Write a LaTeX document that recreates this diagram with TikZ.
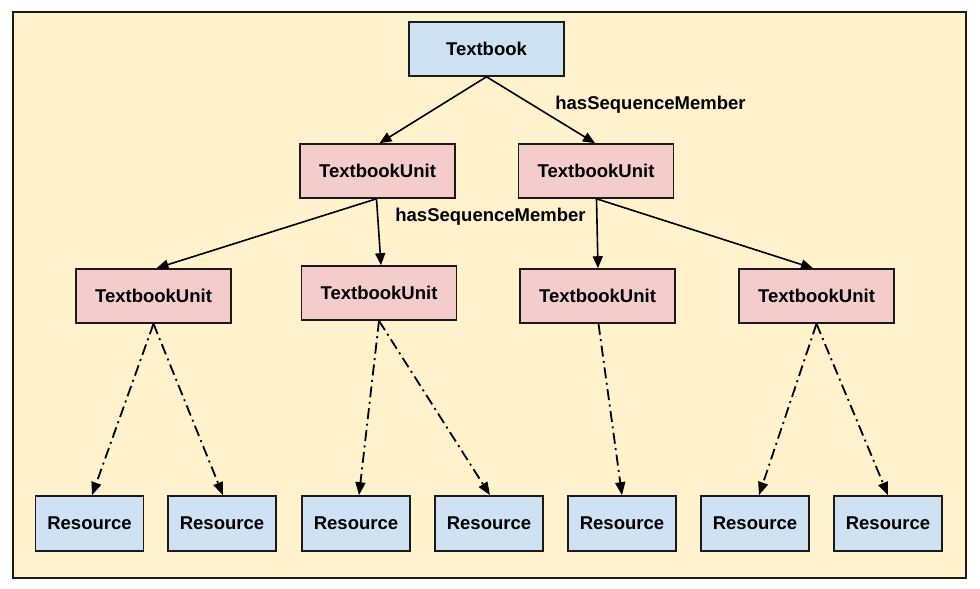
\documentclass[tikz,border=0pt]{standalone}
\usepackage{fontspec}
\setmainfont{Liberation Sans}
\usetikzlibrary{arrows.meta}
\definecolor{bgc}{HTML}{FFF2CC}
\definecolor{bluec}{HTML}{CFE2F3}
\definecolor{pinkc}{HTML}{F4CCCC}
\definecolor{edgec}{HTML}{1A1A1A}
\tikzset{
  box/.style={draw=edgec, line width=1.6pt, rectangle, inner sep=0pt,
    font=\fontsize{18.5}{21}\selectfont\bfseries},
  bluebox/.style={box, fill=bluec},
  pinkbox/.style={box, fill=pinkc, minimum width=155pt, minimum height=54pt},
  resbox/.style={box, fill=bluec, minimum width=108pt, minimum height=55pt},
  solidarrow/.style={draw=black, line width=1.6pt, -{Triangle[length=12pt,width=10pt]}},
  dotarrow/.style={draw=black, line width=1.8pt, dash pattern=on 11pt off 4.5pt on 2pt off 4.5pt,
    -{Triangle[length=13pt,width=10pt]}},
  lbl/.style={font=\fontsize{18.5}{21}\selectfont\bfseries, inner sep=0pt}
}
\begin{document}
\begin{tikzpicture}[x=1pt,y=-1pt]
\useasboundingbox (0,0) rectangle (980,589);
\fill[white] (0,0) rectangle (980,589);
\draw[fill=bgc, draw=edgec, line width=2pt] (13,12) rectangle (966,578);

\node[bluebox, minimum width=155pt, minimum height=54pt] (tb) at (486.5,49) {\raisebox{-1pt}{Textbook}};
\node[pinkbox] (u1) at (377.5,171) {\raisebox{-1pt}{TextbookUnit}};
\node[pinkbox] (u2) at (596,171) {\raisebox{-1pt}{TextbookUnit}};
\node[pinkbox] (ua) at (153.5,296) {\raisebox{-1pt}{TextbookUnit}};
\node[pinkbox] (ub) at (379,293) {\raisebox{-1pt}{TextbookUnit}};
\node[pinkbox] (uc) at (597.5,296) {\raisebox{-1pt}{TextbookUnit}};
\node[pinkbox] (ud) at (816.5,296) {\raisebox{-1pt}{TextbookUnit}};

\node[resbox] (r1) at (89.5,523.5) {\raisebox{-1pt}{Resource}};
\node[resbox] (r2) at (222,523.5) {\raisebox{-1pt}{Resource}};
\node[resbox] (r3) at (356,523.5) {\raisebox{-1pt}{Resource}};
\node[resbox] (r4) at (489,523.5) {\raisebox{-1pt}{Resource}};
\node[resbox] (r5) at (622,523.5) {\raisebox{-1pt}{Resource}};
\node[resbox] (r6) at (755,523.5) {\raisebox{-1pt}{Resource}};
\node[resbox] (r7) at (888,523.5) {\raisebox{-1pt}{Resource}};

\node[lbl] (l1) at (650.5,105) {hasSequenceMember};
\node[lbl] (l2) at (490.5,217) {hasSequenceMember};

\draw[solidarrow] (tb.south) -- ([xshift=2pt]u1.north);
\draw[solidarrow] (tb.south) -- ([xshift=-1pt]u2.north);
\draw[solidarrow] ([xshift=-1pt]u1.south) -- ([xshift=3pt]ua.north);
\draw[solidarrow] ([xshift=-1pt]u1.south) -- ([xshift=2pt]ub.north);
\draw[solidarrow] ([xshift=0.5pt]u2.south) -- ([xshift=0.5pt]uc.north);
\draw[solidarrow] ([xshift=0.5pt]u2.south) -- ([xshift=-3.5pt]ud.north);

\draw[dotarrow] (ua.south) -- ([xshift=2.5pt]r1.north);
\draw[dotarrow] (ua.south) -- ([xshift=1pt]r2.north);
\draw[dotarrow] (ub.south) -- ([xshift=3pt]r3.north);
\draw[dotarrow] (ub.south) -- ([xshift=1pt]r4.north);
\draw[dotarrow] ([xshift=1pt]uc.south) -- (r5.north);
\draw[dotarrow] (ud.south) -- ([xshift=4pt]r6.north);
\draw[dotarrow] (ud.south) -- (r7.north);
\end{tikzpicture}
\end{document}
